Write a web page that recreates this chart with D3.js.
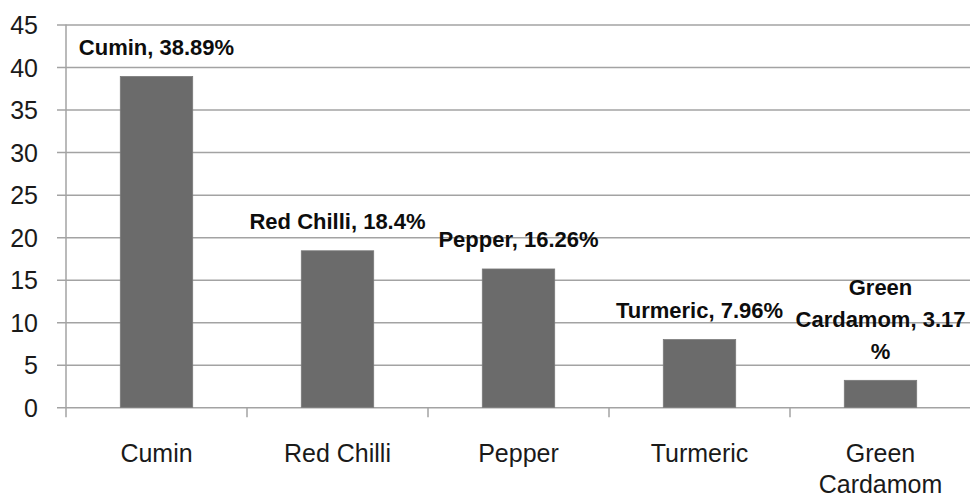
<!DOCTYPE html>
<html>
<head>
<meta charset="utf-8">
<script src="https://cdn.jsdelivr.net/npm/d3@7/dist/d3.min.js"></script>
<style>
  html, body { margin: 0; padding: 0; background: #fff; }
  svg { display: block; }
</style>
</head>
<body>
<svg id="chart" width="970" height="499"></svg>
<script>
// Share of spice exports by item (%)
const categories = ["Cumin", "Red Chilli", "Pepper", "Turmeric", "Green Cardamom"];
const values = [38.89, 18.4, 16.26, 7.96, 3.17];
const valueLabels = ["38.89", "18.4", "16.26", "7.96", "3.17"];
const yTicks = [0, 5, 10, 15, 20, 25, 30, 35, 40, 45];

const svg = d3.select("#chart");
const margin = { left: 66, top: 24.5, bottom: 407.3 };
const plotRight = 971;

const x = d3.scaleBand()
  .domain(categories)
  .range([margin.left, plotRight])
  .paddingInner(0.6)
  .paddingOuter(0.3);

const y = d3.scaleLinear().domain([0, 45]).range([margin.bottom, margin.top]);

const gridColor = "#a3a3a3";
const font = "'Liberation Sans', Arial, sans-serif";

// Horizontal gridlines with outward ticks on the left
const yAxis = d3.axisLeft(y)
  .tickValues(yTicks)
  .tickSize(-(plotRight - margin.left))
  .tickPadding(28)
  .tickFormat(d3.format("d"));

const gy = svg.append("g")
  .attr("transform", `translate(${margin.left},0)`)
  .call(yAxis);
gy.select(".domain").remove();
gy.selectAll(".tick line")
  .attr("x1", -9)
  .attr("stroke", gridColor)
  .attr("stroke-width", 1.5);
gy.selectAll(".tick text")
  .attr("font-family", font)
  .attr("font-size", 25)
  .attr("fill", "#1a1a1a")
  .attr("dy", "0.36em");

// Vertical axis line
svg.append("line")
  .attr("x1", margin.left).attr("x2", margin.left)
  .attr("y1", margin.top).attr("y2", margin.bottom + 10)
  .attr("stroke", gridColor).attr("stroke-width", 1.5);

// Category boundary ticks below the baseline
const gap = (x.step() - x.bandwidth()) / 2;
svg.append("g").selectAll("line")
  .data(categories.slice(1))
  .join("line")
  .attr("x1", d => x(d) - gap)
  .attr("x2", d => x(d) - gap)
  .attr("y1", margin.bottom)
  .attr("y2", margin.bottom + 10)
  .attr("stroke", gridColor).attr("stroke-width", 1.5);

// Bars
svg.append("g").selectAll("rect")
  .data(categories)
  .join("rect")
  .attr("x", d => x(d))
  .attr("width", x.bandwidth())
  .attr("y", (d, i) => y(values[i]))
  .attr("height", (d, i) => y(0) - y(values[i]))
  .attr("fill", "#6b6b6b")
  .attr("stroke", "#7a7a7a")
  .attr("stroke-width", 0.8);

// Wrap text into lines no wider than maxWidth; '%' may start a new line
function wrapTokens(tokens, maxWidth, measure) {
  const lines = [];
  let cur = "";
  tokens.forEach(tok => {
    const trial = cur + tok;
    if (cur === "" || measure(trial) <= maxWidth) {
      cur = trial;
    } else {
      lines.push(cur);
      cur = tok.replace(/^\s+/, "");
    }
  });
  if (cur) lines.push(cur);
  return lines;
}

const measurer = svg.append("text")
  .attr("font-family", font).attr("font-size", 22).attr("font-weight", "bold")
  .attr("visibility", "hidden");
const measureBold = s => { measurer.text(s); return measurer.node().getComputedTextLength(); };

function labelTokens(name, v) {
  const words = `${name},`.split(" ");
  const toks = words.map((w, i) => (i ? " " : "") + w);
  toks.push(" " + v, "%");
  return toks;
}

// Data labels above each bar
const labelLine = 32;
categories.forEach((c, i) => {
  const lines = wrapTokens(labelTokens(c, valueLabels[i]), 178, measureBold);
  const cx = x(c) + x.bandwidth() / 2;
  const baseY = y(values[i]) - 21.5 - (lines.length - 1) * labelLine;
  const t = svg.append("text")
    .attr("font-family", font).attr("font-size", 22).attr("font-weight", "bold")
    .attr("fill", "#0d0d0d")
    .attr("text-anchor", "middle");
  lines.forEach((ln, k) => {
    t.append("tspan").attr("x", cx).attr("y", baseY + k * labelLine).text(ln);
  });
});
measurer.remove();

// Category labels, wrapping the two-word name that does not fit
categories.forEach(c => {
  const cx = x(c) + x.bandwidth() / 2;
  const words = c === "Red Chilli" ? [c] : c.split(" ");
  const t = svg.append("text")
    .attr("font-family", font).attr("font-size", 25)
    .attr("fill", "#1a1a1a")
    .attr("text-anchor", "middle");
  words.forEach((w, k) => {
    t.append("tspan").attr("x", cx).attr("y", 462 + k * 31).text(w);
  });
});
</script>
</body>
</html>
